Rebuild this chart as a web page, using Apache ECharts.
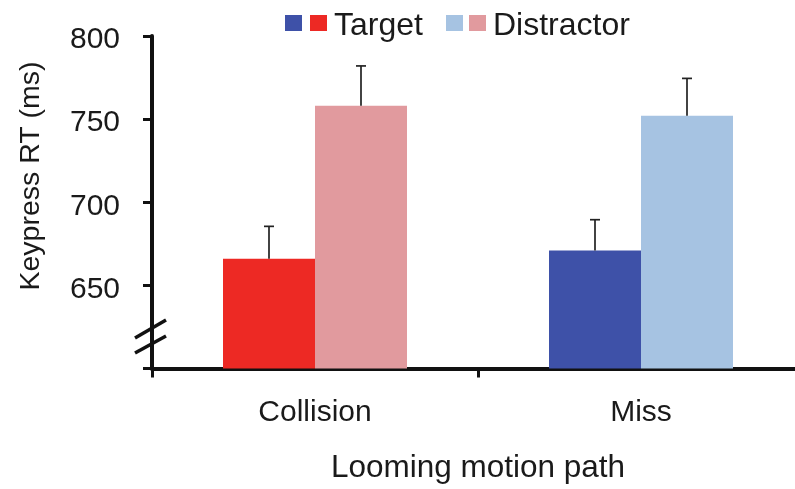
<!DOCTYPE html>
<html>
<head>
<meta charset="utf-8">
<script src="https://cdn.jsdelivr.net/npm/echarts@6/dist/echarts.min.js"></script>
<style>
html,body{margin:0;padding:0;background:#fff;}
#c{width:795px;height:489px;}
</style>
</head>
<body>
<div id="c"></div>
<script>
var categories = ['Collision', 'Miss'];
var targetRT = [666, 671];
var distractorRT = [758, 752];
var targetSE = [19.5, 18.5];
var distractorSE = [24, 22.5];
var yTicks = [650, 700, 750, 800];

var targetColors = ['#ED2924', '#3E51A8'];
var distractorColors = ['#E19A9E', '#A6C3E2'];
var FONT = '"Liberation Sans", Arial, Helvetica, sans-serif';
var BAR_W = 92;

var chart = echarts.init(document.getElementById('c'), null, {renderer: 'canvas'});

function errSeries(name, means, ses, side) {
  var data = means.map(function (m, i) { return [i, m, m + ses[i]]; });
  return {
    type: 'custom',
    name: name + ' SE',
    z: 5,
    data: data,
    encode: {x: 0, y: [1, 2]},
    renderItem: function (params, api) {
      var idx = api.value(0);
      var p0 = api.coord([idx, api.value(1)]);
      var p1 = api.coord([idx, api.value(2)]);
      var x = p0[0] + side * BAR_W / 2;
      var style = {stroke: '#222', lineWidth: 1.7};
      return {
        type: 'group',
        children: [
          {type: 'line', shape: {x1: x, y1: p0[1], x2: x, y2: p1[1]}, style: style},
          {type: 'line', shape: {x1: x - 5, y1: p1[1], x2: x + 5, y2: p1[1]}, style: style}
        ]
      };
    }
  };
}

var option = {
  animation: false,
  backgroundColor: '#ffffff',
  textStyle: {fontFamily: FONT},
  grid: {left: 152, top: 36, width: 652, height: 332.5, containLabel: false, outerBoundsMode: 'none'},
  xAxis: {
    type: 'category',
    data: categories,
    name: 'Looming motion path',
    nameLocation: 'middle',
    nameGap: 84,
    nameTextStyle: {fontSize: 31.5, color: '#1a1a1a', fontFamily: FONT},
    axisLine: {lineStyle: {color: '#111', width: 4}},
    axisTick: {show: true, length: 9, lineStyle: {color: '#111', width: 3}},
    axisLabel: {fontSize: 30, color: '#1a1a1a', margin: 29, fontFamily: FONT}
  },
  yAxis: {
    type: 'value',
    min: 600,
    max: 800,
    interval: 50,
    splitLine: {show: false},
    axisLine: {show: true, lineStyle: {color: '#111', width: 4}},
    axisTick: {show: true, length: 9, lineStyle: {color: '#111', width: 3}},
    axisLabel: {
      color: '#1a1a1a', margin: 32,
      formatter: function (v) { return yTicks.indexOf(v) >= 0 ? '{t|' + v + '}' : ''; },
      rich: {t: {fontSize: 30, color: '#1a1a1a', fontFamily: FONT, padding: [8, 0, 0, 0]}}
    }
  },
  series: [
    {
      type: 'bar', name: 'Target', barWidth: BAR_W, barGap: '0%',
      data: targetRT.map(function (v, i) { return {value: v, itemStyle: {color: targetColors[i]}}; })
    },
    {
      type: 'bar', name: 'Distractor', barWidth: BAR_W, barGap: '0%',
      data: distractorRT.map(function (v, i) { return {value: v, itemStyle: {color: distractorColors[i]}}; })
    },
    errSeries('Target', targetRT, targetSE, -1),
    errSeries('Distractor', distractorRT, distractorSE, 1)
  ],
  graphic: [
    // legend
    {type: 'rect', left: 285, top: 15, shape: {width: 17, height: 16}, style: {fill: targetColors[1]}},
    {type: 'rect', left: 310, top: 15, shape: {width: 17, height: 16}, style: {fill: targetColors[0]}},
    {type: 'text', left: 334, top: 10, style: {text: 'Target', fontSize: 32, fill: '#1a1a1a', fontFamily: FONT}},
    {type: 'rect', left: 446, top: 15, shape: {width: 17, height: 16}, style: {fill: distractorColors[1]}},
    {type: 'rect', left: 469, top: 15, shape: {width: 17, height: 16}, style: {fill: distractorColors[0]}},
    {type: 'text', left: 493, top: 10, style: {text: 'Distractor', fontSize: 32, fill: '#1a1a1a', fontFamily: FONT}},
    // y axis title
    {type: 'text', x: 31, y: 176, rotation: Math.PI / 2,
     style: {text: 'Keypress RT (ms)', fontSize: 28.5, fill: '#1a1a1a', fontFamily: FONT, align: 'center', verticalAlign: 'middle'}},
    // axis break marks
    {type: 'line', z: 10, shape: {x1: 135, y1: 338, x2: 166, y2: 320}, style: {stroke: '#111', lineWidth: 3.5}},
    {type: 'line', z: 10, shape: {x1: 135, y1: 353, x2: 166, y2: 336}, style: {stroke: '#111', lineWidth: 3.5}}
  ]
};
chart.setOption(option);
</script>
</body>
</html>
